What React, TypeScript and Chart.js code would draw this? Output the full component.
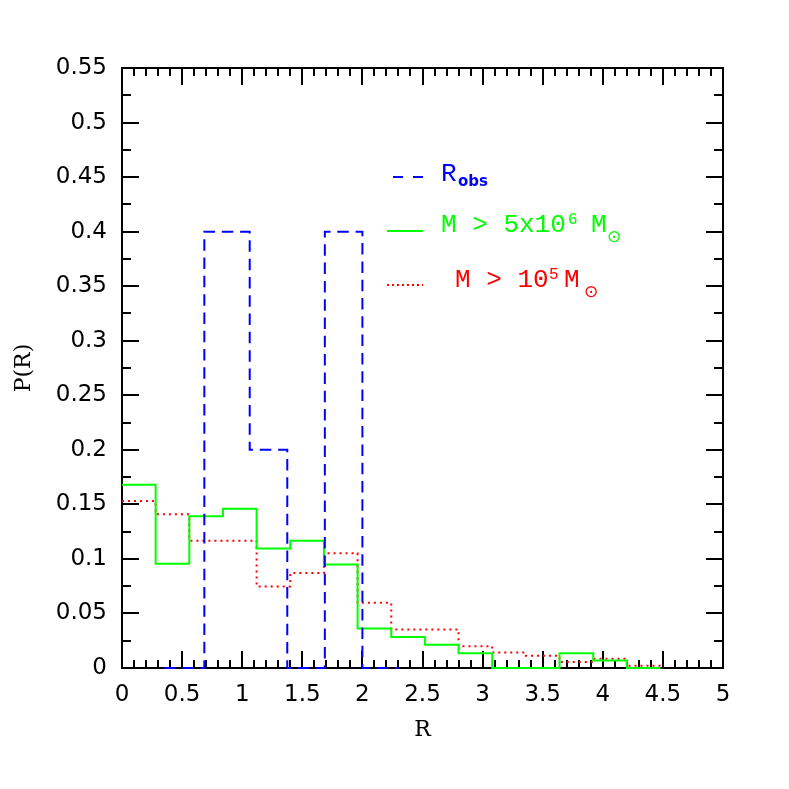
import React, { useEffect, useRef } from "react";
import { Chart, registerables } from "chart.js";

Chart.register(...registerables);

// Simulated histograms share these bin edges
const binEdges = [0, 0.28, 0.56, 0.84, 1.12, 1.4, 1.68, 1.96, 2.24, 2.52, 2.8, 3.08, 3.36, 3.64, 3.92, 4.2, 4.48];
// M > 5x10^6 Msun (green, solid)
const massiveValues = [0.168, 0.0955, 0.139, 0.146, 0.1095, 0.1167, 0.0948, 0.0362, 0.0284, 0.0212, 0.0136, 0, 0, 0.0136, 0.0068, 0];
// M > 10^5 Msun (red, dotted)
const allValues = [0.153, 0.141, 0.1167, 0.1167, 0.0748, 0.087, 0.1052, 0.0597, 0.0354, 0.0354, 0.0199, 0.0142, 0.0112, 0.0055, 0.0085, 0.0021];
// Observed (blue, dashed)
const obsEdges = [0.35, 0.685, 1.0625, 1.375, 1.6875, 2.0, 2.3];
const obsValues = [0, 0.4, 0.2, 0, 0.4, 0];

const xMin = 0;
const xMax = 5;
const xLabelStep = 0.5;
const xMinorStep = 0.1;
const yMin = 0;
const yMax = 0.55;
const yLabelStep = 0.05;
const yMinorStep = 0.025;

const xTitle = "R";
const yTitle = "P(R)";

const BLUE = "#0000ff";
const GREEN = "#00ff00";
const RED = "#ff0000";

function stepPoints(edges: number[], values: number[]) {
  const pts = values.map((v, i) => ({ x: edges[i], y: v }));
  pts.push({ x: edges[edges.length - 1], y: values[values.length - 1] });
  return pts;
}

function fmt(v: number) {
  return String(Number(Number(v).toFixed(3)));
}

const framePlugin = {
  id: "frameTicks",
  beforeDatasetsDraw(chart: any) {
    const { ctx, chartArea: a, scales } = chart;
    ctx.save();
    ctx.strokeStyle = "#000";
    ctx.lineWidth = 2;
    ctx.strokeRect(a.left, a.top, a.right - a.left, a.bottom - a.top);
    ctx.lineWidth = 2;
    ctx.beginPath();
    const nx = Math.round((xMax - xMin) / xMinorStep);
    for (let i = 0; i <= nx; i++) {
      const v = xMin + i * xMinorStep;
      const px = Math.round(scales.x.getPixelForValue(v));
      const major = Math.abs(v / xLabelStep - Math.round(v / xLabelStep)) < 1e-6;
      const len = major ? 17 : 8;
      ctx.moveTo(px, a.bottom);
      ctx.lineTo(px, a.bottom - len);
      ctx.moveTo(px, a.top);
      ctx.lineTo(px, a.top + len);
    }
    const ny = Math.round((yMax - yMin) / yMinorStep);
    for (let i = 0; i <= ny; i++) {
      const v = yMin + i * yMinorStep;
      const py = Math.round(scales.y.getPixelForValue(v));
      const major = i % 2 === 0;
      const len = major ? 17 : 9;
      ctx.moveTo(a.left, py);
      ctx.lineTo(a.left + len, py);
      ctx.moveTo(a.right, py);
      ctx.lineTo(a.right - len, py);
    }
    ctx.stroke();
    ctx.restore();
  },
};

const legendPlugin = {
  id: "customLegend",
  afterDatasetsDraw(chart: any) {
    const { ctx, chartArea: a } = chart;
    const ox = a.left;
    const oy = a.top;
    ctx.save();
    ctx.textAlign = "left";
    ctx.textBaseline = "alphabetic";
    const main = "26px 'Liberation Mono', monospace";
    const sup = "16px 'Liberation Mono', monospace";
    const sun = "17px 'DejaVu Sans', sans-serif";

    // Row 1: observed
    ctx.strokeStyle = BLUE;
    ctx.lineWidth = 2;
    ctx.beginPath();
    ctx.moveTo(ox + 271, oy + 109);
    ctx.lineTo(ox + 281, oy + 109);
    ctx.moveTo(ox + 291, oy + 109);
    ctx.lineTo(ox + 301, oy + 109);
    ctx.stroke();
    ctx.fillStyle = BLUE;
    ctx.font = main;
    ctx.fillText("R", ox + 319, oy + 113);
    ctx.font = "bold 15px 'DejaVu Sans', sans-serif";
    ctx.fillText("obs", ox + 336, oy + 118);

    // Row 2: M > 5x10^6 Msun
    ctx.strokeStyle = GREEN;
    ctx.beginPath();
    ctx.moveTo(ox + 265, oy + 163);
    ctx.lineTo(ox + 301, oy + 163);
    ctx.stroke();
    ctx.fillStyle = GREEN;
    ctx.font = main;
    ctx.fillText("M > 5x10", ox + 319, oy + 164);
    ctx.font = sup;
    ctx.fillText("6", ox + 446, oy + 156);
    ctx.font = main;
    ctx.fillText("M", ox + 469, oy + 164);
    ctx.font = sun;
    ctx.fillText("\u2299", ox + 485, oy + 174);

    // Row 3: M > 10^5 Msun
    ctx.strokeStyle = RED;
    ctx.setLineDash([2, 3]);
    ctx.beginPath();
    ctx.moveTo(ox + 265, oy + 217);
    ctx.lineTo(ox + 301, oy + 217);
    ctx.stroke();
    ctx.setLineDash([]);
    ctx.fillStyle = RED;
    ctx.font = main;
    ctx.fillText("M > 10", ox + 333, oy + 219);
    ctx.font = sup;
    ctx.fillText("5", ox + 427, oy + 211);
    ctx.font = main;
    ctx.fillText("M", ox + 442, oy + 219);
    ctx.font = sun;
    ctx.fillText("\u2299", ox + 462, oy + 229);
    ctx.restore();
  },
};

export default function App() {
  const ref = useRef<HTMLCanvasElement | null>(null);

  useEffect(() => {
    if (!ref.current) return;
    const tickFont = { family: "'DejaVu Sans', sans-serif", size: 23 };
    const titleFont = { family: "'DejaVu Serif', serif", size: 22 };
    const chart = new Chart(ref.current, {
      type: "line",
      data: {
        datasets: [
          {
            label: "Robs",
            data: stepPoints(obsEdges, obsValues),
            borderColor: BLUE,
            borderWidth: 2,
            borderDash: [11.5, 6.8],
            stepped: "before",
            pointRadius: 0,
            fill: false,
            clip: false,
          },
          {
            label: "M > 5x10^6",
            data: stepPoints(binEdges, massiveValues),
            borderColor: GREEN,
            borderWidth: 2,
            stepped: "before",
            pointRadius: 0,
            fill: false,
            clip: false,
          },
          {
            label: "M > 10^5",
            data: stepPoints(binEdges, allValues),
            borderColor: RED,
            borderWidth: 2,
            borderDash: [2, 4],
            stepped: "before",
            pointRadius: 0,
            fill: false,
            clip: false,
          },
        ] as any,
      },
      options: {
        animation: false,
        responsive: false,
        layout: { padding: { left: 0, top: 68, right: 66, bottom: 0 } },
        plugins: {
          legend: { display: false },
          tooltip: { enabled: false },
        },
        scales: {
          x: {
            type: "linear",
            min: xMin,
            max: xMax,
            grid: { display: false, drawTicks: false, tickLength: 0 },
            border: { display: false },
            ticks: {
              stepSize: xLabelStep,
              font: tickFont,
              color: "#000",
              padding: 13,
              maxRotation: 0,
              callback: (v: any) => fmt(v),
            },
            title: {
              display: true,
              text: xTitle,
              font: titleFont,
              color: "#000",
              padding: { top: 0, bottom: 46 },
            },
            afterFit: (s: any) => {
              s.height = 121;
            },
          },
          y: {
            type: "linear",
            min: yMin,
            max: yMax,
            grid: { display: false, drawTicks: false, tickLength: 0 },
            border: { display: false },
            ticks: {
              stepSize: yLabelStep,
              font: tickFont,
              color: "#000",
              padding: 15,
              callback: (v: any) => fmt(v),
            },
            title: {
              display: true,
              text: yTitle,
              font: titleFont,
              color: "#000",
              padding: { top: 11, bottom: 0 },
            },
            afterFit: (s: any) => {
              s.width = 122;
            },
          },
        },
      } as any,
      plugins: [framePlugin, legendPlugin],
    });
    return () => chart.destroy();
  }, []);

  return (
    <div style={{ position: "absolute", left: 0, top: 0, width: 789, height: 789, background: "#fff" }}>
      <canvas ref={ref} width={789} height={789} style={{ display: "block" }} />
    </div>
  );
}
